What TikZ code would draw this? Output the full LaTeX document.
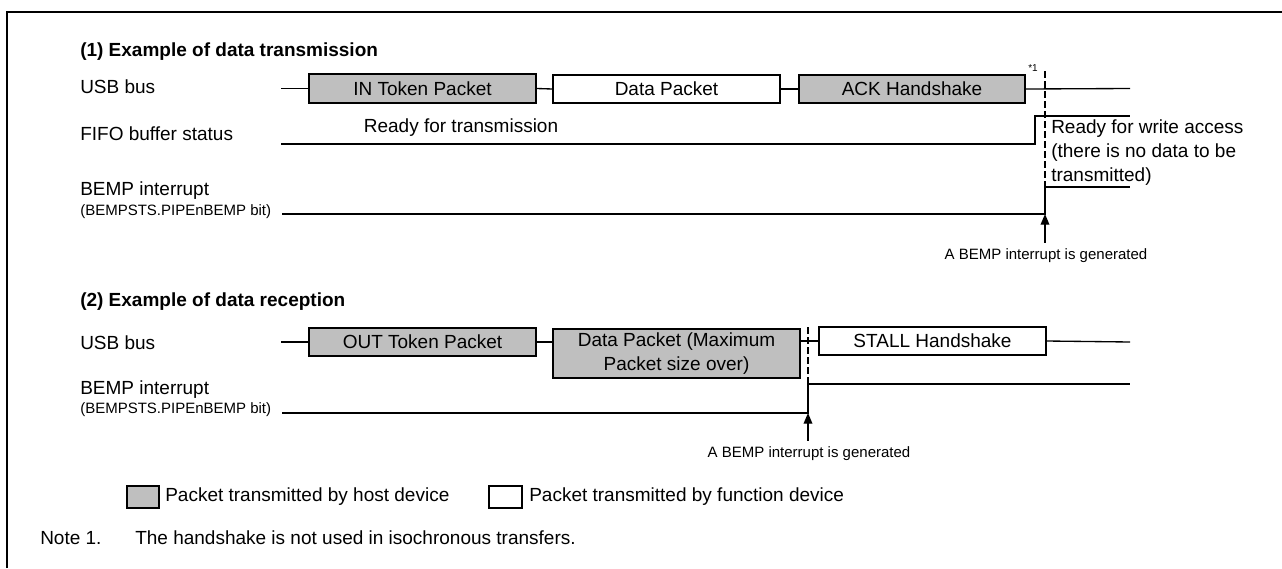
\documentclass[tikz,border=0pt]{standalone}
\usepackage{fontspec}
\setmainfont{Liberation Sans}
\usepackage{tikz}
\usetikzlibrary{arrows.meta}

\begin{document}
\begin{tikzpicture}[x=0.75pt,y=-0.75pt,
    lbl/.style={anchor=west,inner sep=0pt,font=\fontsize{14.25}{18}\selectfont},
    tiny/.style={inner sep=0pt,font=\fontsize{11.25}{13}\selectfont},
    dims/.style 2 args={minimum width=#1*0.75pt,minimum height=#2*0.75pt},
    packet/.style={draw,line width=1pt,inner sep=0pt,align=center,font=\fontsize{14.25}{18}\selectfont},
    host/.style={packet,fill=black!25},
    func/.style={packet,fill=white},
    wave/.style={line width=1pt},
    marker/.style={line width=1.5pt,dash pattern=on 5pt off 2.5pt},
    irq/.style={line width=1pt,-{Triangle[length=8pt,width=6.5pt]}}]
    \useasboundingbox (0,0) rectangle (1282,568);
    \draw[line width=2.2pt] (7,568) -- (7,12) -- (1282,12);
    % (1) transmission
    \node[lbl,font=\fontsize{14.25}{18}\selectfont\bfseries] (head1) at (80,52) {(1) Example of data transmission};
    \node[lbl] (usb1) at (80,87) {USB bus};
    \node[lbl] (fifo) at (80,134) {FIFO buffer status};
    \node[lbl] (bemp1) at (80,191) {BEMP interrupt};
    \node[lbl,font=\fontsize{11.25}{13}\selectfont] (bit1) at (80,212) {(BEMPSTS.PIPEnBEMP bit)};
    \node[host,dims={227}{29}] (intok) at (422.5,88.5) {IN Token Packet};
    \node[func,dims={227}{28}] (data1) at (666.5,89) {Data Packet};
    \node[host,dims={226}{28}] (ack) at (912,89) {ACK Handshake};
    \coordinate (bus1s) at (281,88.5);
    \coordinate (bus1e) at (1130,88.5);
    \draw[wave] (bus1s) -- (intok.west);
    \draw[wave] (intok.east) -- (data1.west);
    \draw[wave] (data1.east) -- (ack.west);
    \draw[wave] (ack.east) -- (bus1e);
    \node[tiny,font=\fontsize{7.5}{9}\selectfont] (note1) at (1033,68) {*1};
    \draw[wave] (281,144) -- (1035,144) -- (1035,116) -- (1130,116);
    \node[lbl,anchor=center] (ready1) at (461,128) {Ready for transmission};
    \node[lbl,align=left] (ready2) at (1051,153) {Ready for write access\\(there is no data to be\\transmitted)};
    \draw[wave] (282,214) -- (1045,214) -- (1045,187) -- (1130,187);
    \draw[marker] (1045,71) -- (1045,214);
    \coordinate (irq1) at (1045,214);
    \node[tiny] (gen1) at (1046,256) {A BEMP interrupt is generated};
    \draw[irq] (gen1.north -| irq1) ++(0,-6) -- (irq1);
    % (2) reception
    \node[lbl,font=\fontsize{14.25}{18}\selectfont\bfseries] (head2) at (80,302) {(2) Example of data reception};
    \node[lbl] (usb2) at (80,343) {USB bus};
    \node[lbl] (bemp2) at (80,390) {BEMP interrupt};
    \node[lbl,font=\fontsize{11.25}{13}\selectfont] (bit2) at (80,410) {(BEMPSTS.PIPEnBEMP bit)};
    \node[host,dims={227}{28}] (outtok) at (422.5,342) {OUT Token Packet};
    \node[host,dims={247}{49}] (data2) at (676.5,353.5) {Data Packet (Maximum\\Packet size over)};
    \node[func,dims={227}{28}] (stall) at (932.5,341) {STALL Handshake};
    \coordinate (bus2s) at (281,342);
    \coordinate (bus2e) at (1130,342);
    \draw[wave] (bus2s) -- (outtok.west);
    \draw[wave] (outtok.east) -- (outtok.east -| data2.west);
    \draw[wave] (stall.west -| data2.east) -- (stall.west);
    \draw[wave] (stall.east) -- (bus2e);
    \draw[wave] (282,413) -- (808,413) -- (808,384) -- (1130,384);
    \draw[marker] (808,327) -- (808,413);
    \coordinate (irq2) at (808,413);
    \node[tiny] (gen2) at (809,454) {A BEMP interrupt is generated};
    \draw[irq] (gen2.north -| irq2) ++(0,-6) -- (irq2);
    % legend and note
    \node[host,dims={32}{22}] (hostkey) at (143,497) {};
    \node[lbl] (hostlbl) at (165,497) {Packet transmitted by host device};
    \node[func,dims={33}{22}] (funckey) at (505.5,497) {};
    \node[lbl] (funclbl) at (529,497) {Packet transmitted by function device};
    \node[lbl] (notenum) at (40,538) {Note 1.};
    \node[lbl] (notetxt) at (135,538) {The handshake is not used in isochronous transfers.};
  \end{tikzpicture}
\end{document}
